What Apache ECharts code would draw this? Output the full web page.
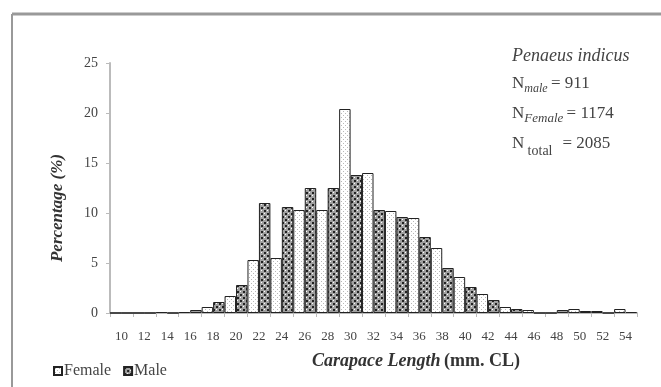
<!DOCTYPE html>
<html><head><meta charset="utf-8">
<script src="https://cdn.jsdelivr.net/npm/echarts@6/dist/echarts.min.js"></script>
<style>html,body{margin:0;padding:0;background:#fff}#c{width:661px;height:387px}</style>
</head><body><div id="c"></div>
<script>
const categories = ['10','12','14','16','18','20','22','24','26','28','30','32','34','36','38','40','42','44','46','48','50','52','54'];
const female = [0,0,0.1,0.1,0.6,1.7,5.3,5.5,10.3,10.3,20.4,14.0,10.2,9.5,6.5,3.6,1.9,0.6,0.3,0,0.4,0.2,0.4];
const male   = [0,0,0,0.3,1.1,2.8,11.0,10.6,12.5,12.5,13.8,10.3,9.6,7.6,4.5,2.6,1.3,0.4,0,0.3,0.2,0,0.1];
const yTicks = [0,5,10,15,20,25];

function pattern(kind){
  const c = document.createElement('canvas');
  if(kind==='f'){
    c.width=4;c.height=4;const g=c.getContext('2d');
    g.fillStyle='#fff';g.fillRect(0,0,4,4);
    g.fillStyle='#b8b8b8';g.fillRect(1,1,1,1);g.fillRect(3,3,1,1);
  } else {
    c.width=6;c.height=6;const g=c.getContext('2d');
    g.fillStyle='#a0a0a0';g.fillRect(0,0,6,6);
    g.fillStyle='#222';g.fillRect(0,0,2,2);g.fillRect(3,3,2,2);
    g.fillStyle='#fff';g.fillRect(3,0,1,1);g.fillRect(0,3,1,1);
  }
  return {image:c, repeat:'repeat'};
}
const serif = '"Liberation Serif", "DejaVu Serif", serif';
const chart = echarts.init(document.getElementById('c'), null, {renderer:'canvas'});
chart.setOption({
  animation:false,
  backgroundColor:'#fff',
  grid:{left:110,right:24,top:63,bottom:74},
  legend:{
    left:48, top:358, itemWidth:8, itemHeight:8, itemGap:12, icon:'rect',
    textStyle:{fontFamily:serif,fontSize:16,color:'#444',padding:[0,0,0,-3]},
    data:['Female','Male']
  },
  xAxis:{
    type:'category', data:categories,
    axisLine:{lineStyle:{color:'#bbb',width:2}},
    axisTick:{show:true,interval:0,length:4,lineStyle:{color:'#bbb'}},
    axisLabel:{interval:0,margin:17,fontFamily:serif,fontSize:13,color:'#444'}
  },
  yAxis:{
    type:'value', min:yTicks[0], max:yTicks[yTicks.length-1], interval:5,
    splitLine:{show:false},
    axisLine:{show:true,lineStyle:{color:'#bbb',width:2}},
    axisTick:{show:true,length:4,lineStyle:{color:'#bbb'}},
    axisLabel:{margin:12,fontFamily:serif,fontSize:14,color:'#444'}
  },
  series:[
    {name:'Female',type:'bar',data:female,barGap:'0%',barCategoryGap:'0%',
     itemStyle:{color:pattern('f'),borderColor:'#222',borderWidth:1}},
    {name:'Male',type:'bar',data:male,barGap:'0%',barCategoryGap:'0%',
     itemStyle:{color:pattern('m'),borderColor:'#222',borderWidth:1}}
  ],
  graphic:[
    {type:'line',shape:{x1:12,y1:14,x2:661,y2:14},style:{stroke:'#999',lineWidth:3}},
    {type:'line',shape:{x1:12,y1:14,x2:12,y2:387},style:{stroke:'#999',lineWidth:2}},
    {type:'text',x:58,y:208,rotation:Math.PI/2,
     style:{text:'Percentage (%)',fontFamily:serif,fontSize:17,fontWeight:'bold',fontStyle:'italic',fill:'#333',align:'center',verticalAlign:'middle'}},
    {type:'text',x:416,y:361,
     style:{text:'{a|Carapace Length} {b|(mm. CL)}',align:'center',verticalAlign:'middle',
       rich:{a:{fontFamily:serif,fontSize:18,fontWeight:'bold',fontStyle:'italic',fill:'#333'},
             b:{fontFamily:serif,fontSize:18,fontWeight:'bold',fill:'#333'}}}},
    {type:'text',x:512,y:56,style:{text:'Penaeus indicus',fontFamily:serif,fontSize:18,fontStyle:'italic',fill:'#444',verticalAlign:'middle'}},
    {type:'text',x:512,y:84,style:{text:'{n|N}{s|male} {n|= 911}',verticalAlign:'middle',
       rich:{n:{fontFamily:serif,fontSize:17,fill:'#444'},s:{fontFamily:serif,fontSize:12,fontStyle:'italic',fill:'#444',padding:[9,0,0,0]}}}},
    {type:'text',x:512,y:114,style:{text:'{n|N}{s|Female} {n|= 1174}',verticalAlign:'middle',
       rich:{n:{fontFamily:serif,fontSize:17,fill:'#444'},s:{fontFamily:serif,fontSize:13,fontStyle:'italic',fill:'#444',padding:[9,0,0,0]}}}},
    {type:'text',x:512,y:144,style:{text:'{n|N} {s|total}   {n|= 2085}',verticalAlign:'middle',
       rich:{n:{fontFamily:serif,fontSize:17,fill:'#444'},s:{fontFamily:serif,fontSize:14,fill:'#444',padding:[14,0,0,0]}}}}
  ]
});
</script></body></html>
